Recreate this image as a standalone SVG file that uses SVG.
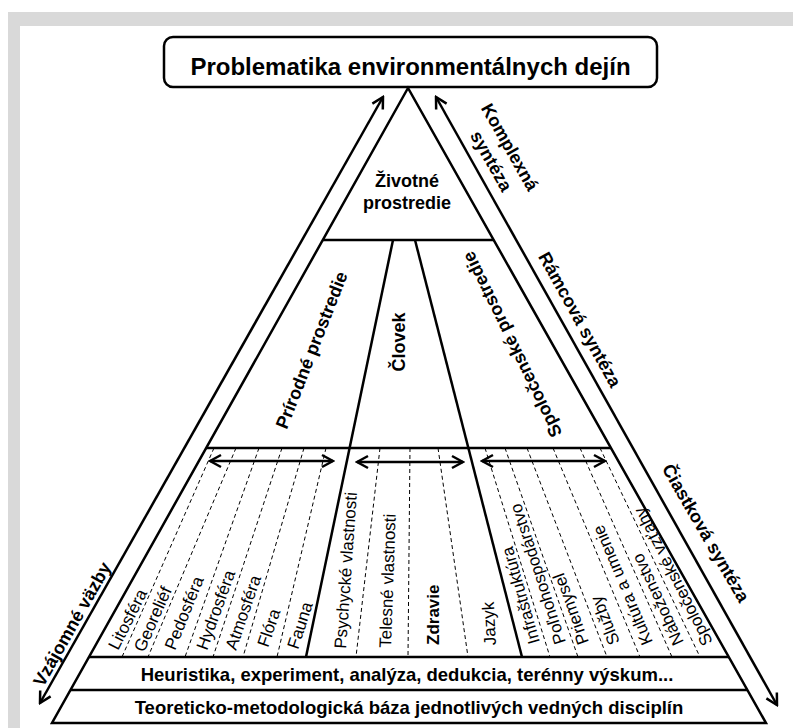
<svg xmlns="http://www.w3.org/2000/svg" width="793" height="728" viewBox="0 0 793 728">
<defs>
<style>
.ln{stroke:#000;stroke-width:2.5;fill:none}
.ds{stroke:#000;stroke-width:1;stroke-dasharray:4 3;fill:none}
.b{font-family:"Liberation Sans",Arial,sans-serif;font-weight:bold;fill:#000}
.r{font-family:"Liberation Sans",Arial,sans-serif;fill:#000;font-size:17px}
.arr{stroke:#000;stroke-width:2.5;fill:none;marker-start:url(#h);marker-end:url(#h)}
</style>
<marker id="h" viewBox="-14 -8 16 16" refX="0" refY="0" markerWidth="16" markerHeight="16" markerUnits="userSpaceOnUse" orient="auto-start-reverse">
<path d="M-11,-6 L0,0 L-11,6" fill="none" stroke="#000" stroke-width="2.5"/>
</marker>
</defs>
<rect width="793" height="728" fill="#fff"/>
<rect x="8" y="12" width="785" height="716" fill="#d9d9d9"/>
<rect x="20" y="26" width="773" height="702" fill="#fff"/>

<g id="title">
<rect x="164" y="37" width="493" height="50" rx="9" class="ln" stroke-width="2.8"/>
<text x="410.5" y="75" class="b" font-size="24" text-anchor="middle">Problematika environmentálnych dejín</text>
</g>

<g id="pyramid">
<polygon points="408,88 52,723 766,723" class="ln"/>
<line x1="323" y1="240" x2="494" y2="240" class="ln"/>
<line x1="206" y1="448" x2="611" y2="448" class="ln"/>
<line x1="89" y1="657" x2="729" y2="657" class="ln"/>
<line x1="70.5" y1="690" x2="747.5" y2="690" class="ln"/>
<line x1="393" y1="240" x2="306" y2="657" class="ln"/>
<line x1="415" y1="240" x2="522" y2="657" class="ln"/>
</g>

<g id="dividers">
<line x1="214" y1="448" x2="122" y2="657" class="ds"/>
<line x1="236" y1="448" x2="148" y2="657" class="ds"/>
<line x1="259" y1="448" x2="185" y2="657" class="ds"/>
<line x1="282" y1="448" x2="213" y2="657" class="ds"/>
<line x1="304" y1="448" x2="243" y2="657" class="ds"/>
<line x1="326" y1="448" x2="277" y2="657" class="ds"/>
<line x1="380" y1="448" x2="356" y2="657" class="ds"/>
<line x1="410" y1="448" x2="408" y2="657" class="ds"/>
<line x1="438" y1="448" x2="468" y2="657" class="ds"/>
<line x1="485" y1="448" x2="550" y2="657" class="ds"/>
<line x1="505" y1="448" x2="578" y2="657" class="ds"/>
<line x1="527" y1="448" x2="607" y2="657" class="ds"/>
<line x1="553" y1="448" x2="640" y2="657" class="ds"/>
<line x1="580" y1="448" x2="672" y2="657" class="ds"/>
<line x1="600" y1="448" x2="700" y2="657" class="ds"/>
</g>

<g id="zivotne-prostredie">
<text x="407" y="187" class="b" font-size="18" text-anchor="middle">Životné</text>
<text x="407" y="209" class="b" font-size="18" text-anchor="middle">prostredie</text>
</g>
<g id="prirodne-prostredie">
<text transform="translate(311.5,350) rotate(-68.5)" dy=".35em" class="b" font-size="18" text-anchor="middle">Prírodné prostredie</text>
</g>
<g id="clovek">
<text transform="translate(399,342) rotate(-90)" dy=".35em" class="b" font-size="18" text-anchor="middle">Človek</text>
</g>
<g id="spolocenske-prostredie">
<text transform="translate(512,344.5) rotate(-116)" dy=".35em" class="b" font-size="18" text-anchor="middle">Spoločenské prostredie</text>
</g>

<g id="prirodne-polozky">
<text transform="translate(118,651) rotate(-63)" class="r">Litosféra</text>
<text transform="translate(144,653) rotate(-66)" class="r">Georeliéf</text>
<text transform="translate(175,651) rotate(-68)" class="r">Pedosféra</text>
<text transform="translate(207,651) rotate(-70)" class="r">Hydrosféra</text>
<text transform="translate(236,651) rotate(-71)" class="r">Atmosféra</text>
<text transform="translate(268,648) rotate(-71)" class="r">Flóra</text>
<text transform="translate(298,650) rotate(-72)" class="r">Fauna</text>
</g>
<g id="clovek-polozky">
<text transform="translate(346,649) rotate(-86)" class="r">Psychycké vlastnosti</text>
<text transform="translate(391,648) rotate(-88)" class="r">Telesné vlastnosti</text>
<text transform="translate(439,645) rotate(-90)" class="r" font-weight="bold">Zdravie</text>
<text transform="translate(496,645) rotate(-93)" class="r">Jazyk</text>
</g>
<g id="spolocenske-polozky">
<text transform="translate(540,642) rotate(-106)" class="r">Infraštruktúra</text>
<text transform="translate(566,642) rotate(-108)" class="r">Poľnohospodárstvo</text>
<text transform="translate(589,642) rotate(-110)" class="r">Priemysel</text>
<text transform="translate(620,642) rotate(-112)" class="r">Služby</text>
<text transform="translate(653,642) rotate(-113)" class="r">Kultúra a umenie</text>
<text transform="translate(684,642) rotate(-115)" class="r">Náboženstvo</text>
<text transform="translate(713,642) rotate(-117)" class="r">Spoločenské vzťahy</text>
</g>

<g id="heuristika">
<text x="407" y="681" class="b" font-size="18.5" text-anchor="middle">Heuristika, experiment, analýza, dedukcia, terénny výskum...</text>
</g>
<g id="teoreticko">
<text x="409" y="714" class="b" font-size="18.5" text-anchor="middle">Teoreticko-metodologická báza jednotlivých vedných disciplín</text>
</g>

<g id="side-labels">
<text transform="translate(510,147) rotate(60.5)" dy=".35em" class="b" font-size="18" text-anchor="middle">Komplexná</text>
<text transform="translate(491.5,161) rotate(60.5)" dy=".35em" class="b" font-size="18" text-anchor="middle">syntéza</text>
<text transform="translate(580,319.5) rotate(61)" dy=".35em" class="b" font-size="18" text-anchor="middle">Rámcová syntéza</text>
<text transform="translate(706,533) rotate(60)" dy=".35em" class="b" font-size="18" text-anchor="middle">Čiastková syntéza</text>
<text transform="translate(72,624) rotate(-60.5)" dy=".35em" class="b" font-size="18" text-anchor="middle">Vzájomné väzby</text>
</g>

<g id="connectors">
<line x1="383" y1="97" x2="40" y2="703" class="arr"/>
<line x1="436" y1="97" x2="777" y2="705" class="arr"/>
<line x1="210" y1="461" x2="333" y2="461" class="arr"/>
<line x1="357" y1="462" x2="463" y2="462" class="arr"/>
<line x1="482" y1="461" x2="605" y2="461" class="arr"/>
</g>
</svg>
